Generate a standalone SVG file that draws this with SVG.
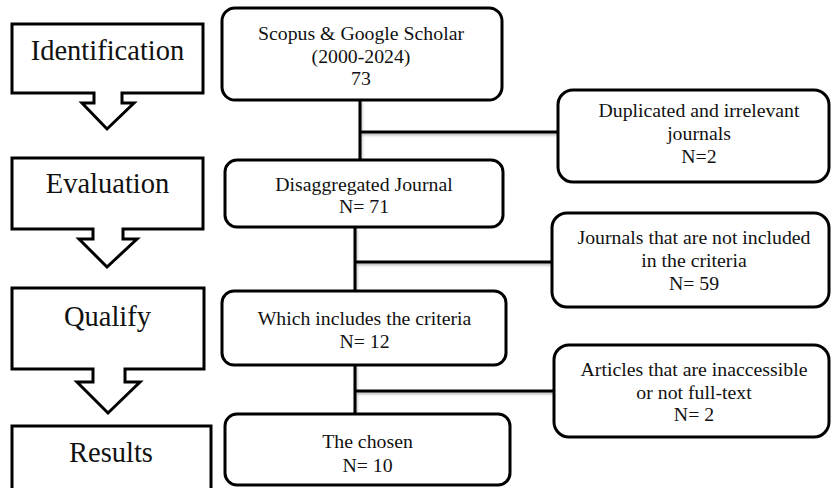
<svg xmlns="http://www.w3.org/2000/svg" width="832" height="488" viewBox="0 0 832 488">
  <defs>
    <filter id="sh" x="-10%" y="-50%" width="120%" height="200%">
      <feDropShadow dx="1" dy="2" stdDeviation="1.2" flood-color="#000" flood-opacity="0.25"/>
    </filter>
  </defs>
  <style>
    .stage { fill: #fff; stroke: #000; stroke-width: 3; stroke-linejoin: miter; }
    .box { fill: #fff; stroke: #000; stroke-width: 3; }
    .conn { fill: none; stroke: #000; stroke-width: 3; }
    .lbl { font-family: "Liberation Serif", "Times New Roman", serif; font-size: 28.5px; fill: #111; text-anchor: middle; }
    .txt { font-family: "Liberation Serif", "Times New Roman", serif; font-size: 19.8px; fill: #111; text-anchor: middle; }
  </style>
  <rect width="832" height="488" fill="#fff"/>

  <g id="stage-identification">
    <path class="stage" d="M12,24 H203 V93 H122 V103 H134 L107,129 L82,103 H94 V93 H12 Z"/>
    <text class="lbl" x="107.5" y="60">Identification</text>
  </g>
  <g id="stage-evaluation">
    <path class="stage" d="M12,158 H203 V229 H123 V239 H137 L107,267 L79,239 H93 V229 H12 Z"/>
    <text class="lbl" x="107.5" y="193">Evaluation</text>
  </g>
  <g id="stage-qualify">
    <path class="stage" d="M12,288 H204 V369 H125 V382 H140 L108,413 L77,382 H93 V369 H12 Z"/>
    <text class="lbl" x="107.5" y="326">Qualify</text>
  </g>
  <g id="stage-results">
    <rect class="stage" x="12" y="426" width="199" height="80"/>
    <text class="lbl" x="111" y="462">Results</text>
  </g>

  <g id="connectors" filter="url(#sh)">
    <path class="conn" d="M360,100 V160 M360,132 H558"/>
    <path class="conn" d="M355,227 V291 M355,262 H552"/>
    <path class="conn" d="M355,365 V413 M355,391 H554"/>
  </g>

  <g id="box-sources">
    <rect class="box" x="222" y="8" width="280" height="92" rx="13"/>
    <text class="txt" x="361" y="40">Scopus &amp; Google Scholar</text>
    <text class="txt" x="361" y="62.5">(2000-2024)</text>
    <text class="txt" x="361" y="85">73</text>
  </g>
  <g id="box-disaggregated">
    <rect class="box" x="225" y="160" width="278" height="67" rx="12"/>
    <text class="txt" x="364" y="191">Disaggregated Journal</text>
    <text class="txt" x="364" y="213">N= 71</text>
  </g>
  <g id="box-criteria">
    <rect class="box" x="222" y="291" width="284" height="74" rx="12"/>
    <text class="txt" x="364.5" y="325">Which includes the criteria</text>
    <text class="txt" x="364.5" y="348">N= 12</text>
  </g>
  <g id="box-chosen">
    <rect class="box" x="225" y="414" width="285" height="71" rx="12"/>
    <text class="txt" x="367.5" y="448">The chosen</text>
    <text class="txt" x="367.5" y="472">N= 10</text>
  </g>

  <g id="box-duplicated">
    <rect class="box" x="558" y="90" width="271" height="92" rx="15"/>
    <text class="txt" x="699" y="117">Duplicated and irrelevant</text>
    <text class="txt" x="699" y="140">journals</text>
    <text class="txt" x="699" y="163">N=2</text>
  </g>
  <g id="box-not-included">
    <rect class="box" x="552" y="213" width="277" height="94" rx="15"/>
    <text class="txt" x="694" y="244">Journals that are not included</text>
    <text class="txt" x="694" y="267">in the criteria</text>
    <text class="txt" x="694" y="290">N= 59</text>
  </g>
  <g id="box-inaccessible">
    <rect class="box" x="554" y="345" width="275" height="92" rx="15"/>
    <text class="txt" x="694" y="376">Articles that are inaccessible</text>
    <text class="txt" x="694" y="398.5">or not full-text</text>
    <text class="txt" x="694" y="421">N= 2</text>
  </g>
</svg>
